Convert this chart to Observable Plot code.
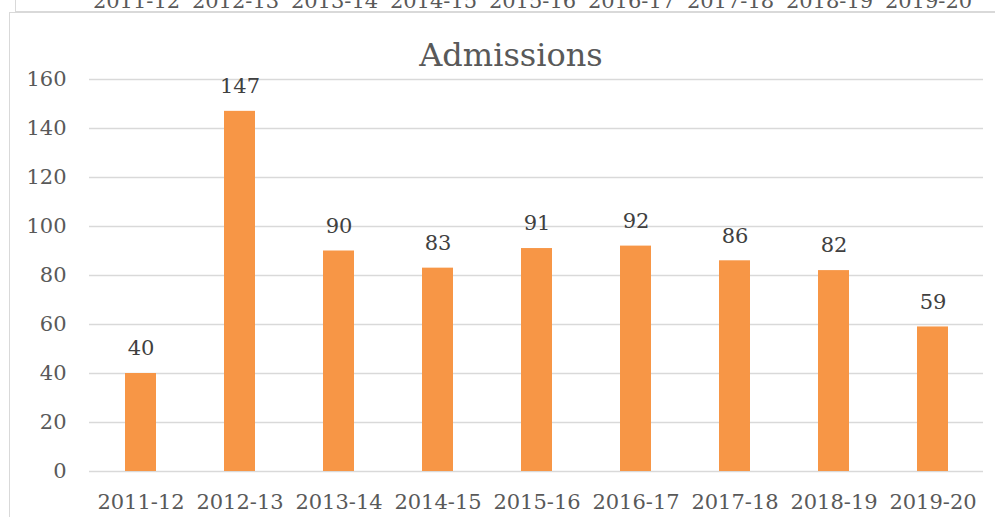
<!DOCTYPE html>
<html>
<head>
<meta charset="utf-8">
<script src="https://cdn.jsdelivr.net/npm/d3@7"></script>
<script src="https://cdn.jsdelivr.net/npm/@observablehq/plot@0.6"></script>
<style>
  html, body { margin: 0; padding: 0; background: #fff; }
  #wrap { position: relative; width: 995px; height: 517px; overflow: hidden; font-family: "DejaVu Serif", serif; }
  #prevbox { position: absolute; left: 15px; top: -20px; width: 1000px; height: 31px; border-left: 1px solid #D9D9D9; border-bottom: 1px solid #D9D9D9; }
  #box { position: absolute; left: 9px; top: 12px; width: 1000px; height: 520px; border: 1px solid #D9D9D9; box-sizing: border-box; }
  #title { position: absolute; left: 0; width: 1022px; top: 35px; text-align: center; font-size: 32px; color: #595959; line-height: 40px; }
  #topstrip, #main { position: absolute; left: 0; }
  #topstrip { top: -501px; }
  #main { top: 0; }
</style>
</head>
<body>
<div id="wrap">
  <div id="prevbox"></div>
  <div id="box"></div>
  <div id="topstrip"></div>
  <div id="main"></div>
  <div id="title">Admissions</div>
</div>
<script>
const years = ["2011-12","2012-13","2013-14","2014-15","2015-16","2016-17","2017-18","2018-19","2019-20"];
const admissions = [40, 147, 90, 83, 91, 92, 86, 82, 59];
const yTicks = [0, 20, 40, 60, 80, 100, 120, 140, 160];

const data = years.map((y, i) => ({year: y, value: admissions[i]}));

const mainChart = Plot.plot({
  width: 995,
  height: 517,
  marginLeft: 89,
  marginRight: 12,
  marginTop: 79,
  marginBottom: 46,
  style: {fontFamily: "DejaVu Serif, serif", fontSize: "21px", color: "#595959", background: "transparent"},
  x: {domain: years, paddingInner: 0.69, paddingOuter: 0.345, label: null},
  y: {domain: [0, 160], ticks: yTicks, label: null},
  marks: [
    Plot.ruleY(yTicks, {stroke: "#D9D9D9", strokeWidth: 1.5}),
    Plot.barY(data, {x: "year", y: "value", fill: "#F79646"}),
    Plot.text(data, {x: "year", y: "value", text: d => String(d.value), dy: -25, fill: "#404040", fontSize: 21}),
    Plot.axisX({tickSize: 0, tickPadding: 23, fontSize: 21, fill: "#595959"}),
    Plot.axisY({ticks: yTicks, tickSize: 0, tickPadding: 23, fontSize: 21, fill: "#595959"})
  ]
});
document.getElementById("main").appendChild(mainChart);

const topChart = Plot.plot({
  width: 995,
  height: 517,
  marginLeft: 85,
  marginRight: 16,
  marginTop: 79,
  marginBottom: 46,
  style: {fontFamily: "DejaVu Serif, serif", fontSize: "21px", color: "#595959", background: "transparent"},
  x: {domain: years, paddingInner: 0.69, paddingOuter: 0.345, label: null},
  y: {domain: [0, 160], axis: null},
  marks: [
    Plot.axisX({tickSize: 0, tickPadding: 23, fontSize: 21, fill: "#595959"})
  ]
});
document.getElementById("topstrip").appendChild(topChart);
</script>
</body>
</html>
